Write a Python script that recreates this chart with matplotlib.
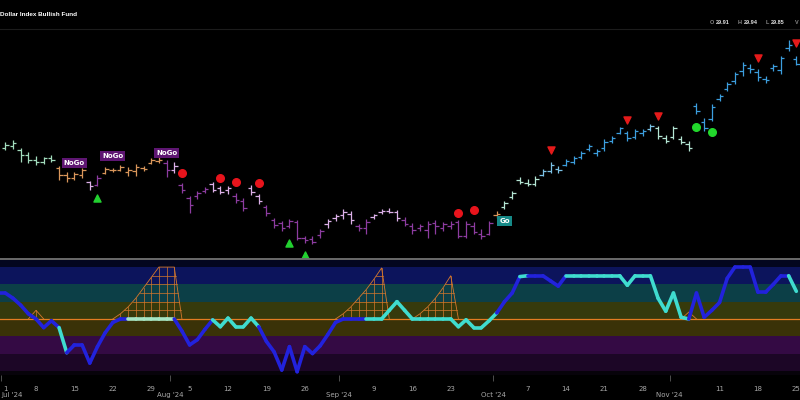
import numpy as np
import pandas as pd
import matplotlib
matplotlib.use('Agg')
import matplotlib.pyplot as plt
from matplotlib.collections import LineCollection

# jours de bourse affichés (4 juillet et 2 septembre fermés)
dates = pd.bdate_range('2024-07-01', '2024-11-25', freq='C',
                       holidays=['2024-07-04', '2024-09-02'])

opens = [29.02, 29.04, 29.00, 28.95, 28.90, 28.88, 28.92, 28.82, 28.75, 28.72,
         28.75, 28.68, 28.65, 28.77, 28.80, 28.80, 28.78, 28.79, 28.82, 28.87,
         28.89, 28.87, 28.80, 28.65, 28.52, 28.54, 28.59, 28.66, 28.62, 28.60,
         28.54, 28.49, 28.62, 28.54, 28.43, 28.30, 28.27, 28.24, 28.28, 28.12,
         28.11, 28.15, 28.26, 28.32, 28.35, 28.36, 28.24, 28.22, 28.33, 28.38,
         28.39, 28.38, 28.30, 28.24, 28.22, 28.20, 28.27, 28.22, 28.24, 28.28,
         28.14, 28.24, 28.16, 28.16, 28.35, 28.43, 28.53, 28.70, 28.67, 28.66,
         28.75, 28.79, 28.81, 28.85, 28.88, 28.93, 29.01, 28.97, 29.02, 29.09,
         29.17, 29.17, 29.13, 29.17, 29.21, 29.22, 29.12, 29.13, 29.11, 29.06,
         29.44, 29.28, 29.31, 29.51, 29.61, 29.69, 29.79, 29.82, 29.78, 29.71,
         29.82, 29.80, 30.02, 29.91]
highs = [29.08, 29.10, 29.02, 28.98, 28.94, 28.93, 28.95, 28.84, 28.78, 28.78,
         28.82, 28.69, 28.75, 28.83, 28.82, 28.85, 28.83, 28.86, 28.84, 28.92,
         28.93, 28.90, 28.88, 28.67, 28.54, 28.59, 28.63, 28.68, 28.64, 28.64,
         28.57, 28.52, 28.65, 28.56, 28.45, 28.32, 28.29, 28.31, 28.30, 28.14,
         28.14, 28.21, 28.31, 28.36, 28.41, 28.39, 28.26, 28.31, 28.36, 28.41,
         28.42, 28.40, 28.33, 28.27, 28.26, 28.29, 28.30, 28.28, 28.29, 28.30,
         28.29, 28.28, 28.21, 28.29, 28.39, 28.49, 28.59, 28.73, 28.71, 28.74,
         28.81, 28.88, 28.84, 28.91, 28.94, 28.99, 29.06, 29.01, 29.11, 29.14,
         29.23, 29.19, 29.21, 29.21, 29.26, 29.24, 29.15, 29.24, 29.14, 29.09,
         29.47, 29.32, 29.46, 29.56, 29.68, 29.78, 29.88, 29.86, 29.81, 29.74,
         29.86, 29.94, 30.10, 29.94]
lows = [29.00, 29.01, 28.88, 28.87, 28.85, 28.86, 28.88, 28.70, 28.68, 28.70,
        28.72, 28.60, 28.64, 28.76, 28.78, 28.79, 28.74, 28.74, 28.79, 28.86,
        28.87, 28.73, 28.77, 28.57, 28.37, 28.51, 28.57, 28.58, 28.56, 28.56,
        28.47, 28.39, 28.55, 28.46, 28.34, 28.22, 28.19, 28.22, 28.10, 28.07,
        28.06, 28.12, 28.22, 28.29, 28.31, 28.26, 28.19, 28.16, 28.31, 28.36,
        28.37, 28.29, 28.24, 28.16, 28.19, 28.12, 28.16, 28.19, 28.21, 28.12,
        28.12, 28.16, 28.11, 28.15, 28.32, 28.41, 28.51, 28.66, 28.64, 28.64,
        28.74, 28.77, 28.77, 28.84, 28.86, 28.91, 28.99, 28.94, 28.99, 29.07,
        29.16, 29.09, 29.11, 29.14, 29.19, 29.11, 29.07, 29.11, 29.06, 28.99,
        29.36, 29.19, 29.29, 29.49, 29.59, 29.66, 29.74, 29.77, 29.69, 29.67,
        29.79, 29.76, 29.99, 29.85]
closes = [29.05, 29.07, 28.95, 28.90, 28.88, 28.92, 28.90, 28.75, 28.72, 28.76,
          28.80, 28.64, 28.72, 28.81, 28.80, 28.83, 28.80, 28.83, 28.81, 28.90,
          28.90, 28.80, 28.84, 28.60, 28.45, 28.57, 28.61, 28.60, 28.58, 28.62,
          28.50, 28.42, 28.58, 28.49, 28.37, 28.25, 28.22, 28.29, 28.12, 28.10,
          28.08, 28.19, 28.29, 28.34, 28.38, 28.30, 28.22, 28.28, 28.35, 28.39,
          28.38, 28.32, 28.26, 28.20, 28.24, 28.26, 28.24, 28.26, 28.26, 28.14,
          28.26, 28.18, 28.14, 28.27, 28.36, 28.47, 28.57, 28.68, 28.66, 28.71,
          28.79, 28.85, 28.80, 28.89, 28.92, 28.97, 29.04, 28.99, 29.08, 29.12,
          29.22, 29.12, 29.19, 29.19, 29.24, 29.14, 29.09, 29.22, 29.08, 29.02,
          29.39, 29.22, 29.43, 29.54, 29.66, 29.76, 29.85, 29.81, 29.73, 29.70,
          29.84, 29.92, 30.05, 29.86]
# état de tendance de chaque barre
bar_state = ("mmmmmmm" "oooo" "l" "v" "oooooooo" "v" "l" "vvvv" "lll" "vv" "ll"
             "vvvvvvvv" "llll" "vv" "llll" "vvvvvvvvvvvv" "o" "qqqqq" "ccc"
             "BBBBBBBBBBB" "c" "qqqqq" "BBBBBBBBBBBBBB")
bar_colors = {'m': '#a2dcbd', 'o': '#d9965a', 'l': '#dcb0e8', 'v': '#8d3ca0',
              'q': '#b4e6d4', 'c': '#7cc2e6', 'B': '#3c9ede'}

# oscillateur, du 28 juin au 25 novembre
osc = [1.5, 1.5, 1.2, 0.8, 0.3, 0.0, -0.5, -0.1, -0.5, -1.95,
       -1.5, -1.5, -2.55, -1.6, -0.8, -0.2, 0.0, 0.0, 0.0, 0.0,
       0.0, 0.0, 0.0, 0.0, -0.7, -1.5, -1.2, -0.6, -0.05, -0.45,
       0.05, -0.45, -0.45, 0.05, -0.45, -1.3, -1.9, -2.95, -1.6, -3.05,
       -1.6, -2.0, -1.55, -0.9, -0.2, 0.0, 0.0, 0.0, 0.0, 0.0,
       0.0, 0.5, 1.0, 0.5, 0.0, 0.0, 0.0, 0.0, 0.0, 0.0,
       -0.45, -0.05, -0.5, -0.5, -0.1, 0.35, 1.0, 1.5, 2.45, 2.5,
       2.5, 2.5, 2.2, 1.9, 2.5, 2.5, 2.5, 2.5, 2.5, 2.5,
       2.5, 2.5, 1.95, 2.5, 2.5, 2.5, 1.2, 0.45, 1.5, 0.1,
       0.0, 1.5, 0.1, 0.5, 0.95, 2.35, 3.0, 3.0, 3.0, 1.55,
       1.55, 2.0, 2.5, 2.5, 1.6]
osc_state = ("bbbbbbbbb" "a" "bbbbbbbb" "pppppp" "bbbbb" "aaaaaa" "bbbbbbbbbbbbbb"
             "aaaaaaaaaaaaaaaaa" "bbb" "a" "bbbbb" "aaaaaaaaaaaaaaaa"
             "bbbbbbbbbbbbb" "a")
osc_colors = {'b': '#2222dc', 'a': '#3fdccf', 'p': '#a6e6c4'}

# grilles de compression (date de départ, hauteurs)
squeeze_start = ['2024-07-05', '2024-07-22', '2024-08-30', '2024-09-16', '2024-11-04']
squeeze_heights = [[0, 0.5],
                   [0, 0.3, 0.7, 1.2, 1.8, 2.4, 3.0, 3.0, 3.0],
                   [0, 0.3, 0.7, 1.2, 1.7, 2.3, 2.95],
                   [0, 0.3, 0.7, 1.2, 1.8, 2.5],
                   [0, 0.4]]

# signaux
red_dot_dates = ['2024-08-02', '2024-08-09', '2024-08-13', '2024-08-16', '2024-09-24', '2024-09-26']
red_dot_prices = [28.77, 28.72, 28.68, 28.67, 28.37, 28.40]
red_tri_dates = ['2024-10-10', '2024-10-24', '2024-10-30', '2024-11-18', '2024-11-25']
red_tri_prices = [29.00, 29.30, 29.34, 29.92, 30.07]
green_dot_dates = ['2024-11-06', '2024-11-08']
green_dot_prices = [29.23, 29.18]
green_tri_dates = ['2024-07-18', '2024-08-22', '2024-08-26']
green_tri_prices = [28.52, 28.07, 27.95]
nogo_dates = ['2024-07-15', '2024-07-22', '2024-07-31']
nogo_prices = [28.87, 28.94, 28.97]
go_dates = ['2024-10-02']
go_prices = [28.29]

day_ticks = ['2024-07-01', '2024-07-08', '2024-07-15', '2024-07-22', '2024-07-29',
             '2024-08-05', '2024-08-12', '2024-08-19', '2024-08-26', '2024-09-09',
             '2024-09-16', '2024-09-23', '2024-10-07', '2024-10-14', '2024-10-21',
             '2024-10-28', '2024-11-11', '2024-11-18', '2024-11-25']
day_labels = ['1', '8', '15', '22', '29', '5', '12', '19', '26', '9', '16', '23',
              '7', '14', '21', '28', '11', '18', '25']
month_first = ['2024-07-01', '2024-08-01', '2024-09-03', '2024-10-01', '2024-11-01']
month_labels = ["Jul '24", "Aug '24", "Sep '24", "Oct '24", "Nov '24"]


def pos(d):
    return dates.get_loc(pd.Timestamp(d))


x = np.arange(len(dates))
fig = plt.figure(figsize=(8, 4), dpi=100, facecolor='black')

# --- prix (barres OHLC) ---
ax = fig.add_axes([0, 1 - 258 / 400, 1, 258 / 400], facecolor='black')
cols = [bar_colors[s] for s in bar_state]
ax.vlines(x, lows, highs, colors=cols, lw=0.9)
ax.hlines(opens, x - 0.45, x, colors=cols, lw=0.9)
ax.hlines(closes, x, x + 0.45, colors=cols, lw=0.9)

ax.scatter([pos(d) for d in red_dot_dates], red_dot_prices, s=30, c='#e8141c', zorder=5)
ax.scatter([pos(d) for d in green_dot_dates], green_dot_prices, s=30, c='#22d82c', zorder=5)
ax.scatter([pos(d) for d in red_tri_dates], red_tri_prices, s=26, marker='v', c='#e41a1a', zorder=5)
ax.scatter([pos(d) for d in green_tri_dates], green_tri_prices, s=26, marker='^', c='#22d030', zorder=5)
for d, p in zip(nogo_dates, nogo_prices):
    ax.text(pos(d), p, 'NoGo', color='white', fontsize=5, fontweight='bold', ha='center', va='center',
            bbox=dict(boxstyle='square,pad=0.3', fc='#5e1672', ec='none'), zorder=6)
for d, p in zip(go_dates, go_prices):
    ax.text(pos(d), p, 'Go', color='white', fontsize=5, fontweight='bold', ha='center', va='center',
            bbox=dict(boxstyle='square,pad=0.3', fc='#168a88', ec='none'), zorder=6)

ax.set_xlim(-0.69, 103.48)
ax.set_ylim(27.92, 30.5)
ax.axis('off')

# --- oscillateur ---
ax2 = fig.add_axes([0, 25 / 400, 1, 115 / 400], facecolor='black')
band_edges = [3.6, 3, 2, 1, 0, -1, -2, -3, -3.4]
band_colors = ['#03061f', '#0c145c', '#0c3f47', '#363a0c', '#3a3208', '#340a44', '#1c0626', '#07030a']
for top, bot, c in zip(band_edges[:-1], band_edges[1:], band_colors):
    ax2.axhspan(bot, top, color=c, lw=0, zorder=0)
ax2.axhline(0, color='#e47d22', lw=0.9, zorder=1)

for start, hs in zip(squeeze_start, squeeze_heights):
    i0 = pos(start)
    xs = np.arange(i0, i0 + len(hs))
    xe = xs[-1] + 1
    hs = np.array(hs, dtype=float)
    top = hs.max()
    ax2.plot(list(xs) + [xe], list(hs) + [0], color='#d6782c', lw=0.6, zorder=2)
    for xi, h in zip(xs, hs):
        if h > 0:
            ax2.plot([xi, xi], [0, h], color='#d6782c', lw=0.5, zorder=2)
    k = int(np.argmax(hs))
    for lev in np.arange(0.5, top, 0.5):
        xl = np.interp(lev, hs[:k + 1], xs[:k + 1])
        xr = xe - (xe - xs[-1]) * lev / top
        ax2.plot([xl, xr], [lev, lev], color='#d6782c', lw=0.5, zorder=2)

ox = np.arange(-1, len(dates))
pts = np.column_stack([ox, osc])
segs = np.stack([pts[:-1], pts[1:]], axis=1)
lc = LineCollection(segs, colors=[osc_colors[s] for s in osc_state[1:]], lw=2.6,
                    capstyle='round', joinstyle='round', zorder=3)
ax2.add_collection(lc)

ax2.set_xlim(-0.69, 103.48)
ax2.set_ylim(-3.24, 3.41)
for s in ax2.spines.values():
    s.set_visible(False)
ax2.set_yticks([])
ax2.set_xticks([pos(d) for d in day_ticks], day_labels)
ax2.set_xticks([pos(d) - 0.5 for d in month_first], month_labels, minor=True)
ax2.tick_params(axis='x', which='major', length=0, pad=8, labelsize=5, labelcolor='#a8a8a8')
ax2.tick_params(axis='x', which='minor', length=4, width=0.6, color='#5a5a5a', pad=8,
                labelsize=5, labelcolor='#a8a8a8')
# le premier mois commence au bord gauche : on l'aligne à gauche pour qu'il reste lisible
ax2.xaxis.get_minor_ticks()[0].label1.set_horizontalalignment('left')
ax2.xaxis.get_minor_ticks()[0].label1.set_x(-0.69)

# séparateur entre les panneaux
fig.add_artist(plt.Line2D([0, 1], [1 - 259 / 400, 1 - 259 / 400], color='#6a6a6a', lw=1.4))
fig.add_artist(plt.Line2D([0, 1], [1 - 29 / 400, 1 - 29 / 400], color='#1c1c1c', lw=0.8))

fig.text(0.0, 1 - 14 / 400, 'Dollar Index Bullish Fund', color='white', fontsize=4.6,
         fontweight='bold', family='Liberation Sans', va='center')
for px, t, c in [(710, 'O', '#8a8a8a'), (716, '29.91', '#e0e0e0'), (738, 'H', '#8a8a8a'),
                 (744, '29.94', '#e0e0e0'), (766, 'L', '#8a8a8a'), (771, '29.85', '#e0e0e0'),
                 (795, 'V', '#8a8a8a')]:
    fig.text(px / 800, 1 - 23 / 400, t, color=c, fontsize=4.0, family='Liberation Sans',
             fontweight='bold', va='center')

fig.savefig('out.png', dpi=100, facecolor='black')
